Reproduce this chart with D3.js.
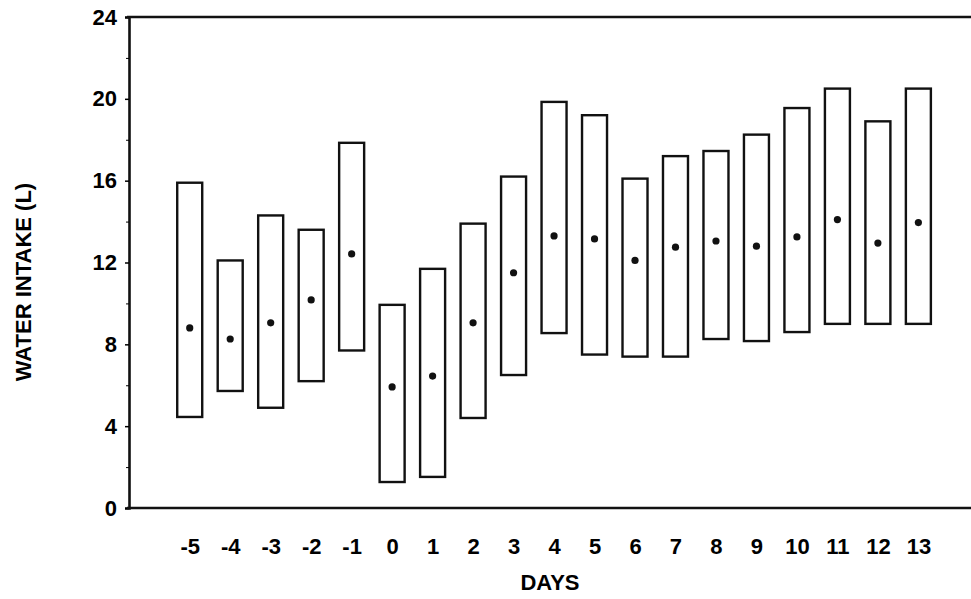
<!DOCTYPE html>
<html lang="en">
<head>
    <meta charset="UTF-8">
    <title>Water intake</title>
    <script src="https://cdn.jsdelivr.net/npm/d3@7"></script>
    <style>
        body { margin: 0; background: #fff; }
        svg { width: 971px; height: 599px; display: block; }
        text { font-family: "Liberation Sans", Arial, sans-serif; font-weight: bold; fill: #000; }
    </style>
</head>
<body>
    <svg></svg>

    <script>
        // days and the low / mean / high water intake (L)
        const days = [-5, -4, -3, -2, -1, 0, 1, 2, 3, 4, 5, 6, 7, 8, 9, 10, 11, 12, 13];
        const lows = [4.45, 5.72, 4.9, 6.2, 7.7, 1.27, 1.52, 4.4, 6.5, 8.55, 7.5, 7.4, 7.4, 8.26, 8.16, 8.6, 9.0, 9.0, 9.0];
        const highs = [15.9, 12.1, 14.3, 13.6, 17.85, 9.93, 11.69, 13.9, 16.2, 19.85, 19.2, 16.1, 17.2, 17.45, 18.25, 19.55, 20.5, 18.9, 20.5];
        const means = [8.8, 8.26, 9.05, 10.17, 12.42, 5.92, 6.45, 9.05, 11.5, 13.3, 13.15, 12.1, 12.75, 13.05, 12.8, 13.25, 14.1, 12.95, 13.95];
        const yTicks = [0, 4, 8, 12, 16, 20, 24];
        const yMinor = [2, 6, 10, 14, 18, 22];

        const plotLeft = 129, plotRight = 971, plotTop = 17, plotBottom = 508;
        const boxW = 25;

        const svg = d3.select('svg');

        const x = d3.scaleLinear().domain([-6.5, 14.3]).range([plotLeft, plotRight]);
        const y = d3.scaleLinear().domain([0, 24]).range([plotBottom, plotTop]);

        const rows = days.map((d, i) => ({ day: d, lo: lows[i], hi: highs[i], mean: means[i] }));

        // boxes
        svg.selectAll('rect.box')
            .data(rows).enter().append('rect')
            .classed('box', true)
            .attr('x', (d) => x(d.day) - boxW / 2)
            .attr('width', boxW)
            .attr('y', (d) => y(d.hi))
            .attr('height', (d) => y(d.lo) - y(d.hi))
            .attr('fill', 'none')
            .attr('stroke', '#111')
            .attr('stroke-width', 2.4);

        svg.selectAll('circle.mean')
            .data(rows).enter().append('circle')
            .classed('mean', true)
            .attr('cx', (d) => x(d.day))
            .attr('cy', (d) => y(d.mean))
            .attr('r', 3.6)
            .attr('fill', '#111');

        // y axis
        const yAxis = svg.append('g')
            .attr('transform', `translate(${plotLeft}, 0)`)
            .call(d3.axisLeft(y).tickValues(yTicks).tickSize(4).tickPadding(8));
        yAxis.attr('font-size', null).attr('font-family', null);
        yAxis.select('.domain').attr('stroke-width', 2.6).attr('stroke', '#111');
        yAxis.selectAll('.tick line').attr('stroke-width', 1.5);
        yAxis.selectAll('text').style('font-size', '22px').attr('fill', null);

        svg.append('g')
            .attr('transform', `translate(${plotLeft}, 0)`)
            .call(d3.axisLeft(y).tickValues(yMinor).tickSize(3).tickFormat(''))
            .call((g) => g.select('.domain').remove());

        // x axis
        const xAxis = svg.append('g')
            .attr('transform', `translate(0, ${plotBottom})`)
            .call(d3.axisBottom(x).tickValues(days).tickSize(0).tickPadding(30)
                .tickFormat((d) => String(d)));
        xAxis.attr('font-size', null).attr('font-family', null);
        xAxis.select('.domain').remove();
        xAxis.selectAll('text').style('font-size', '22px').attr('fill', null);

        svg.append('line')
            .attr('x1', plotLeft - 2).attr('x2', plotRight)
            .attr('y1', plotBottom).attr('y2', plotBottom)
            .attr('stroke', '#111').attr('stroke-width', 2.6);

        svg.append('line')
            .attr('x1', plotLeft - 2).attr('x2', plotRight)
            .attr('y1', plotTop).attr('y2', plotTop)
            .attr('stroke', '#111').attr('stroke-width', 2.6);

        // axis titles
        svg.append('text')
            .attr('x', 550).attr('y', 590)
            .attr('text-anchor', 'middle')
            .style('font-size', '22px')
            .text('DAYS');

        svg.append('text')
            .attr('transform', 'translate(31, 282) rotate(-90)')
            .attr('text-anchor', 'middle')
            .style('font-size', '22px')
            .text('WATER INTAKE (L)');
    </script>
</body>
</html>
